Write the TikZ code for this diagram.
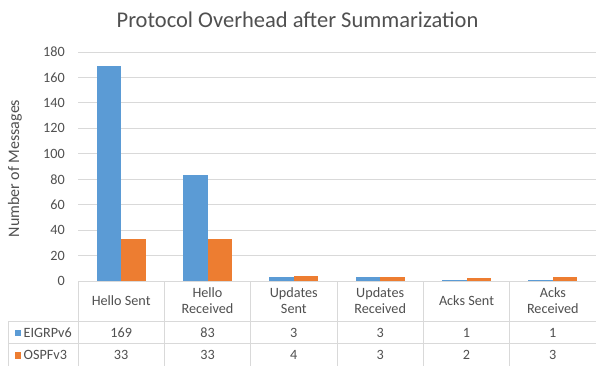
\documentclass[tikz,border=0pt]{standalone}
\usepackage{fontspec}
\setmainfont{Carlito}
\definecolor{eigrp}{HTML}{5B9BD5}
\definecolor{ospf}{HTML}{ED7D31}
\definecolor{gridgray}{HTML}{D9D9D9}
\definecolor{txt}{HTML}{505050}
\begin{document}
\begin{tikzpicture}[x=1pt,y=-1pt,
  gridline/.style={draw=gridgray,line width=1pt},
  tabline/.style={draw=gridgray,line width=0.9pt},
  lbl/.style={text=txt,inner sep=0pt,font=\fontsize{14.2}{16}\selectfont},
  hdr/.style={lbl,align=center},
  eigrpbar/.style={fill=eigrp},
  ospfbar/.style={fill=ospf}]
\useasboundingbox (0,0) rectangle (596,366);
\fill[white] (0,0) rectangle (596,366);
% plot area: zero line at 281, 229pt for 180 messages
\def\yz{281}
\def\ys{1.2722}
\def\cw{86.333}
% title
\node[text=txt,inner sep=0pt,font=\fontsize{22.5}{26}\selectfont] (title) at (297.5,20) {Protocol Overhead after Summarization};
% y-axis title
\node[lbl,rotate=90,font=\fontsize{16}{18}\selectfont] (ytitle) at (15,168.5) {Number of Messages};
% gridlines and tick labels
\foreach \v in {20,40,...,180}{
  \draw[gridline] (78,{\yz-\v*\ys}) -- (596,{\yz-\v*\ys});
}
\foreach \v in {0,20,...,180}{
  \node[lbl,anchor=east] (tick\v) at (65,{\yz-\v*\ys}) {\v};
}
% bars
\foreach \i/\a/\b in {0/169/33,1/83/33,2/3/4,3/3/3,4/1/2,5/1/3}{
  \pgfmathsetmacro{\c}{78+\cw*(\i+0.5)}
  \fill[eigrpbar] ({\c-24.5},\yz) rectangle (\c,{\yz-\a*\ys});
  \fill[ospfbar] (\c,\yz) rectangle ({\c+24.5},{\yz-\b*\ys});
}
% data table
\draw[tabline] (78,\yz) -- (596,\yz);
\draw[tabline] (8,321) -- (596,321);
\draw[tabline] (8,343.5) -- (596,343.5);
\draw[tabline] (8,321) -- (8,366);
\foreach \k in {0,...,5}{
  \draw[tabline] ({78+\cw*\k},\yz) -- ({78+\cw*\k},366);
}
% column headers
\foreach \i/\t in {0/{Hello Sent},1/{Hello\\Received},2/{Updates\\Sent},3/{Updates\\Received},4/{Acks Sent},5/{Acks\\Received}}{
  \node[hdr] (head\i) at ({78+\cw*(\i+0.5)},301) {\t};
}
% row values
\foreach \i/\a/\b in {0/169/33,1/83/33,2/3/4,3/3/3,4/1/2,5/1/3}{
  \node[lbl] (e\i) at ({78+\cw*(\i+0.5)},332.5) {\a};
  \node[lbl] (o\i) at ({78+\cw*(\i+0.5)},355) {\b};
}
% legend keys
\fill[eigrp] (14.5,329.5) rectangle (21,336);
\node[lbl,anchor=west] (leg1) at (23.5,332.5) {EIGRPv6};
\fill[ospf] (14.5,352) rectangle (21,358.5);
\node[lbl,anchor=west] (leg2) at (23.5,355) {OSPFv3};
\end{tikzpicture}
\end{document}
